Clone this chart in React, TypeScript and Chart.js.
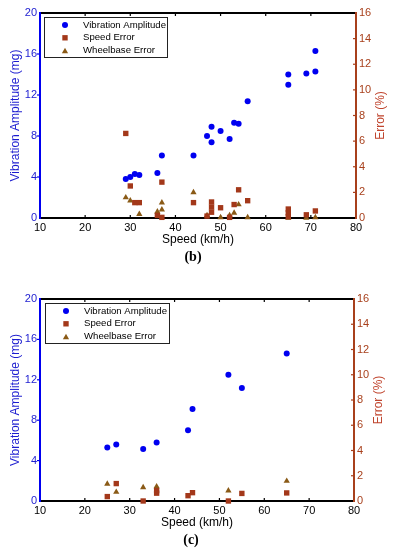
import React, { useEffect, useRef } from "react";
import { Chart, registerables } from "chart.js";
Chart.register(...registerables);

// ---- Shared axis ticks / labels ----
const xTicks = [10, 20, 30, 40, 50, 60, 70, 80];
const leftTicks = [0, 4, 8, 12, 16, 20];
const rightTicks = [0, 2, 4, 6, 8, 10, 12, 14, 16];
const seriesLabels = ["Vibration Amplitude", "Speed Error", "Wheelbase Error"];
const xTitle = "Speed (km/h)";
const leftTitle = "Vibration Amplitude (mg)";
const rightTitle = "Error (%)";

// ---- Panel (b) ----
const bVibSpeed = [29, 30, 31, 32, 36, 37, 44, 47, 48, 48, 50, 52, 53, 54, 56, 65, 65, 69, 71, 71];
const bVibAmp = [3.8, 4.0, 4.3, 4.2, 4.4, 6.1, 6.1, 8.0, 7.4, 8.9, 8.5, 7.7, 9.3, 9.2, 11.4, 13.0, 14.0, 14.1, 14.3, 16.3];
const bSpeedErrSpeed = [29, 30, 31, 32, 36, 37, 37, 44, 47, 48, 48, 48, 50, 52, 53, 54, 56, 65, 65, 65, 69, 71];
const bSpeedErr = [6.6, 2.5, 1.2, 1.2, 0.2, 2.8, 0.05, 1.2, 0.15, 1.25, 0.85, 0.45, 0.8, 0.05, 1.05, 2.2, 1.35, 0.7, 0.4, 0.1, 0.25, 0.55];
const bWheelErrSpeed = [29, 30, 32, 36, 37, 37, 44, 47, 50, 52, 53, 54, 56, 65, 69, 71];
const bWheelErr = [1.6, 1.35, 0.3, 0.5, 0.65, 1.2, 2.0, 0.2, 0.05, 0.2, 0.4, 1.05, 0.05, 0.0, 0.0, 0.05];

// ---- Panel (c) ----
const cVibSpeed = [25, 27, 33, 36, 43, 44, 52, 55, 65];
const cVibAmp = [5.3, 5.6, 5.15, 5.8, 7.0, 9.1, 12.5, 11.2, 14.6];
const cSpeedErrSpeed = [25, 27, 33, 36, 36, 43, 44, 52, 55, 65];
const cSpeedErr = [0.35, 1.38, 0.0, 0.82, 0.62, 0.42, 0.66, 0.0, 0.6, 0.64];
const cWheelErrSpeed = [25, 27, 33, 36, 52, 65];
const cWheelErr = [1.35, 0.71, 1.08, 1.15, 0.82, 1.58];

const FONT = "'Liberation Sans', Arial, Helvetica, sans-serif";
const BLUE = "#0000f0";
const BLUE_TEXT = "#1c1cd0";
const SPEED_C = "#a3381a";
const WHEEL_C = "#8a5a16";
const RIGHT_AXIS = "#a8401c";
const RIGHT_TEXT = "#c0452e";

const pts = (xs: number[], ys: number[]) => xs.map((x, i) => ({ x, y: ys[i] }));

function drawMarker(ctx: CanvasRenderingContext2D, style: string, x: number, y: number, r: number, color: string) {
  ctx.fillStyle = color;
  ctx.beginPath();
  if (style === "circle") {
    ctx.arc(x, y, r, 0, Math.PI * 2);
  } else if (style === "rect") {
    const s = Math.SQRT1_2 * r;
    ctx.rect(x - s, y - s, 2 * s, 2 * s);
  } else {
    ctx.moveTo(x, y - r);
    ctx.lineTo(x + 0.866 * r, y + 0.5 * r);
    ctx.lineTo(x - 0.866 * r, y + 0.5 * r);
    ctx.closePath();
  }
  ctx.fill();
}

const framePlugin = {
  id: "frame",
  beforeDatasetsDraw(chart: any, _args: any, opts: any) {
    const { ctx, chartArea } = chart;
    const { left, right, top, bottom } = chartArea;
    const x = chart.scales.x, y = chart.scales.y, y2 = chart.scales.y2;
    ctx.save();
    ctx.lineWidth = 1.2;
    ctx.strokeStyle = "#000";
    xTicks.forEach((v) => {
      if (v === x.min || v === x.max) return;
      const px = x.getPixelForValue(v);
      ctx.beginPath();
      ctx.moveTo(px, bottom); ctx.lineTo(px, bottom - 3);
      ctx.moveTo(px, top); ctx.lineTo(px, top + 3);
      ctx.stroke();
    });
    ctx.strokeStyle = BLUE;
    leftTicks.forEach((v) => {
      if (v === y.min || v === y.max) return;
      const py = y.getPixelForValue(v);
      ctx.beginPath(); ctx.moveTo(left - 3, py); ctx.lineTo(left, py); ctx.stroke();
    });
    ctx.strokeStyle = RIGHT_AXIS;
    rightTicks.forEach((v) => {
      if (v === y2.min || v === y2.max) return;
      const py = y2.getPixelForValue(v);
      ctx.beginPath(); ctx.moveTo(right - 3, py); ctx.lineTo(right, py); ctx.stroke();
    });
    ctx.lineWidth = 2;
    ctx.strokeStyle = "#000";
    ctx.beginPath(); ctx.moveTo(left, top); ctx.lineTo(right, top); ctx.stroke();
    ctx.beginPath(); ctx.moveTo(left, bottom); ctx.lineTo(right, bottom); ctx.stroke();
    ctx.strokeStyle = BLUE;
    ctx.beginPath(); ctx.moveTo(left, top - 1); ctx.lineTo(left, bottom + 1); ctx.stroke();
    ctx.strokeStyle = RIGHT_AXIS;
    ctx.beginPath(); ctx.moveTo(right, top - 1); ctx.lineTo(right, bottom + 1); ctx.stroke();

    // right axis title (reads bottom-to-top)
    ctx.save();
    ctx.translate(opts.rightTitleX, (top + bottom) / 2);
    ctx.rotate(-Math.PI / 2);
    ctx.fillStyle = RIGHT_TEXT;
    ctx.font = `12px ${FONT}`;
    ctx.textAlign = "center";
    ctx.textBaseline = "middle";
    ctx.fillText(rightTitle, 0, 0);
    ctx.restore();
    ctx.restore();
  },
  afterDatasetsDraw(chart: any, _args: any, opts: any) {
    const { ctx, chartArea } = chart;
    const bx = chartArea.left + opts.legendDx;
    const by = chartArea.top + 4;
    const bw = opts.legendW;
    const bh = 40;
    ctx.save();
    ctx.fillStyle = "#fff";
    ctx.fillRect(bx, by, bw, bh);
    ctx.strokeStyle = "#222";
    ctx.lineWidth = 1;
    ctx.strokeRect(bx + 0.5, by + 0.5, bw, bh);
    chart.data.datasets.forEach((ds: any, i: number) => {
      const ry = by + 8 + i * 12.8;
      drawMarker(ctx, ds.pointStyle, bx + 21, ry + (ds.pointStyle === "triangle" ? 0.8 : 0), ds.pointRadius, ds.backgroundColor);
      ctx.fillStyle = "#000";
      ctx.font = `9.6px ${FONT}`;
      ctx.textAlign = "left";
      ctx.textBaseline = "middle";
      ctx.fillText(ds.label, bx + 39, ry);
    });
    ctx.restore();
  },
};

function makeConfig(p: {
  vib: { x: number; y: number }[];
  sp: { x: number; y: number }[];
  wh: { x: number; y: number }[];
  padTop: number;
  rightW: number;
  rightTitleX: number;
  legendDx: number;
  legendW: number;
}): any {
  const tickFont = { family: FONT, size: 11 };
  return {
    type: "scatter",
    data: {
      datasets: [
        { label: seriesLabels[0], data: p.vib, yAxisID: "y", pointStyle: "circle", pointRadius: 3, borderWidth: 0, backgroundColor: BLUE, borderColor: BLUE, clip: false },
        { label: seriesLabels[1], data: p.sp, yAxisID: "y2", pointStyle: "rect", pointRadius: 3.8, borderWidth: 0, backgroundColor: SPEED_C, borderColor: SPEED_C, clip: false },
        { label: seriesLabels[2], data: p.wh, yAxisID: "y2", pointStyle: "triangle", pointRadius: 3.6, borderWidth: 0, backgroundColor: WHEEL_C, borderColor: WHEEL_C, clip: false },
      ],
    },
    options: {
      responsive: false,
      animation: false,
      events: [],
      layout: { padding: { top: p.padTop, left: 0, right: 0, bottom: 0 } },
      plugins: {
        legend: { display: false },
        tooltip: { enabled: false },
        frame: { rightTitleX: p.rightTitleX, legendDx: p.legendDx, legendW: p.legendW },
      },
      scales: {
        x: {
          type: "linear",
          min: 10,
          max: 80,
          afterBuildTicks: (s: any) => { s.ticks = xTicks.map((v) => ({ value: v })); },
          ticks: { color: "#000", font: tickFont, padding: 3, maxRotation: 0, autoSkip: false },
          grid: { display: false, drawTicks: false },
          border: { display: false },
          title: { display: true, text: xTitle, color: "#000", font: { family: FONT, size: 12 }, padding: { top: 0, bottom: 3 } },
          afterFit: (s: any) => { s.height = 32; },
        },
        y: {
          type: "linear",
          position: "left",
          min: 0,
          max: 20,
          afterBuildTicks: (s: any) => { s.ticks = leftTicks.map((v) => ({ value: v })); },
          ticks: { color: BLUE_TEXT, font: tickFont, padding: 3, autoSkip: false },
          grid: { display: false, drawTicks: false },
          border: { display: false },
          title: { display: true, text: leftTitle, color: BLUE_TEXT, font: { family: FONT, size: 12 }, padding: { top: 8, bottom: 0 } },
          afterFit: (s: any) => { s.width = 40; },
        },
        y2: {
          type: "linear",
          position: "right",
          min: 0,
          max: 16,
          afterBuildTicks: (s: any) => { s.ticks = rightTicks.map((v) => ({ value: v })); },
          ticks: { color: RIGHT_AXIS, font: tickFont, padding: 3, autoSkip: false },
          grid: { display: false, drawTicks: false },
          border: { display: false },
          afterFit: (s: any) => { s.width = p.rightW; },
        },
      },
    },
    plugins: [framePlugin],
  };
}

function Panel(props: { config: any; top: number; height: number }) {
  const ref = useRef<HTMLCanvasElement | null>(null);
  useEffect(() => {
    if (!ref.current) return;
    const chart = new Chart(ref.current, props.config);
    return () => chart.destroy();
  }, []);
  return (
    <canvas
      ref={ref}
      width={393}
      height={props.height}
      style={{ position: "absolute", left: 0, top: props.top, width: 393, height: props.height }}
    />
  );
}

const labelStyle = (top: number, cx: number): React.CSSProperties => ({
  position: "absolute",
  top,
  left: cx,
  transform: "translateX(-50%)",
  fontFamily: "'Liberation Serif', 'Times New Roman', serif",
  fontWeight: "bold",
  fontSize: 14,
  lineHeight: "16px",
  color: "#000",
  whiteSpace: "nowrap",
});

export default function App() {
  const cfgB = makeConfig({
    vib: pts(bVibSpeed, bVibAmp),
    sp: pts(bSpeedErrSpeed, bSpeedErr),
    wh: pts(bWheelErrSpeed, bWheelErr),
    padTop: 13,
    rightW: 37,
    rightTitleX: 381,
    legendDx: 4,
    legendW: 123,
  });
  const cfgC = makeConfig({
    vib: pts(cVibSpeed, cVibAmp),
    sp: pts(cSpeedErrSpeed, cSpeedErr),
    wh: pts(cWheelErrSpeed, cWheelErr),
    padTop: 12,
    rightW: 39,
    rightTitleX: 379,
    legendDx: 5,
    legendW: 124,
  });
  return (
    <div style={{ position: "absolute", left: 0, top: 0, width: 393, height: 550, background: "#fff", overflow: "hidden" }}>
      <Panel config={cfgB} top={0} height={250} />
      <div style={labelStyle(249, 193)}>(b)</div>
      <Panel config={cfgC} top={287} height={246} />
      <div style={labelStyle(532, 191)}>(c)</div>
    </div>
  );
}
